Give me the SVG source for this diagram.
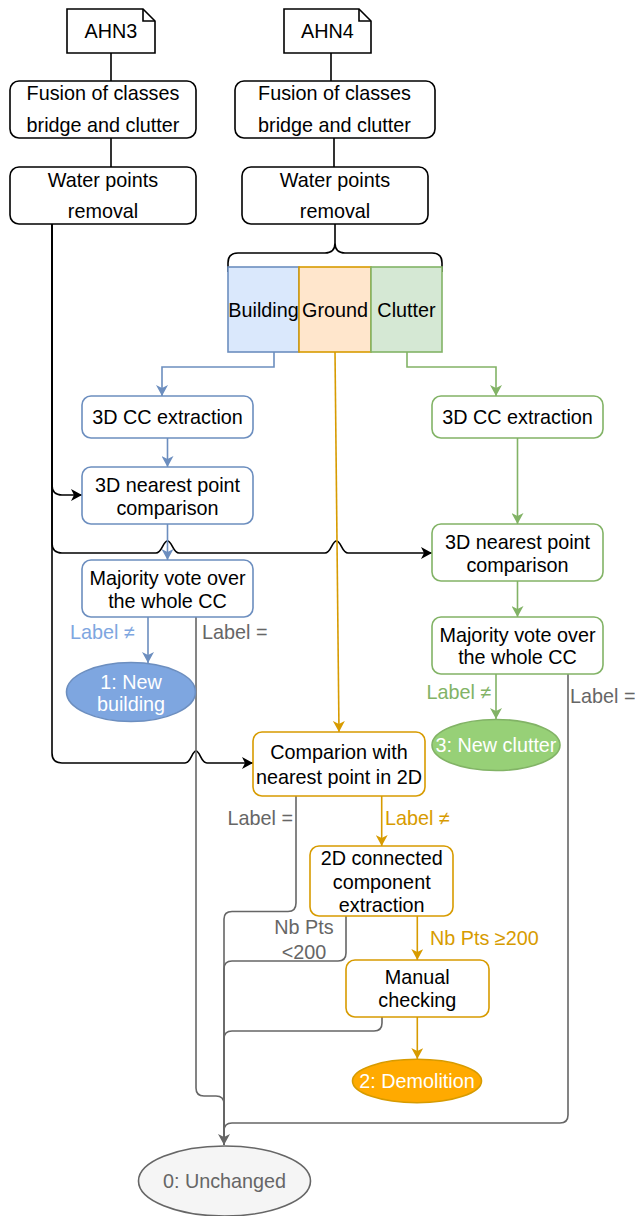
<svg xmlns="http://www.w3.org/2000/svg" width="635" height="1216" viewBox="0 0 635 1216">
<style>
text{font-family:"Liberation Sans",Arial,sans-serif;font-size:19.8px;text-anchor:middle;fill:#000}
.bk{fill:#fff;stroke:#000;stroke-width:1.6}
.bl{fill:#fff;stroke:#6c8ebf;stroke-width:1.6}
.gr{fill:#fff;stroke:#82b366;stroke-width:1.6}
.or{fill:#fff;stroke:#d79b00;stroke-width:1.6}
.c{fill:none;stroke-width:1.6}
.cbk{stroke:#000}.cbl{stroke:#6c8ebf}.cgr{stroke:#82b366}.cor{stroke:#d79b00}.cgy{stroke:#666}
.tbl{fill:#7ea6e0}.tgr{fill:#82b366}.tor{fill:#d79b00}.tgy{fill:#666}.tw{fill:#fff}
.st{text-anchor:start}.en{text-anchor:end}
</style>
<defs>
<marker id="abk" markerUnits="userSpaceOnUse" markerWidth="12" markerHeight="12" refX="11" refY="6" orient="auto"><path d="M0,0 L11,6 L0,12 L3,6 Z" fill="#000"/></marker>
<marker id="abl" markerUnits="userSpaceOnUse" markerWidth="12" markerHeight="12" refX="11" refY="6" orient="auto"><path d="M0,0 L11,6 L0,12 L3,6 Z" fill="#6c8ebf"/></marker>
<marker id="agr" markerUnits="userSpaceOnUse" markerWidth="12" markerHeight="12" refX="11" refY="6" orient="auto"><path d="M0,0 L11,6 L0,12 L3,6 Z" fill="#82b366"/></marker>
<marker id="aor" markerUnits="userSpaceOnUse" markerWidth="12" markerHeight="12" refX="11" refY="6" orient="auto"><path d="M0,0 L11,6 L0,12 L3,6 Z" fill="#d79b00"/></marker>
<marker id="agy" markerUnits="userSpaceOnUse" markerWidth="12" markerHeight="12" refX="11" refY="6" orient="auto"><path d="M0,0 L11,6 L0,12 L3,6 Z" fill="#666"/></marker>
</defs>
<g id="connectors">
<path class="c cbk" d="M111 53 V81 M111 138 V167 M331 53 V81 M334 138 V167"/>
<path class="c cbk" d="M228 272 V263 Q228 253 238 253 H325 Q335 253 335 243 V224 M442 272 V263 Q442 253 432 253 H345 Q335 253 335 243"/>
<path class="c cbk" marker-end="url(#abk)" d="M52 224 V485 Q52 495 62 495 H82"/>
<path class="c cbk" marker-end="url(#abk)" d="M52 224 V543 Q52 553 62 553 H156 C162 553 163 541 167.5 541 C172 541 173 553 179 553 H325 C331 553 332 541 336.5 541 C341 541 342 553 348 553 H432"/>
<path class="c cbk" marker-end="url(#abk)" d="M52 224 V753 Q52 763 62 763 H185 C191 763 192 751 196 751 C200 751 201 763 207 763 H253"/>
<path class="c cbl" marker-end="url(#abl)" d="M274 352 V367 H162 V396"/>
<path class="c cbl" marker-end="url(#abl)" d="M167.5 438 V467"/>
<path class="c cbl" marker-end="url(#abl)" d="M167.5 524 V560"/>
<path class="c cbl" marker-end="url(#abl)" d="M148 617 V663"/>
<path class="c cgr" marker-end="url(#agr)" d="M407 352 V367 H496 V396"/>
<path class="c cgr" marker-end="url(#agr)" d="M517.5 438 V524"/>
<path class="c cgr" marker-end="url(#agr)" d="M517.5 581 V617"/>
<path class="c cgr" marker-end="url(#agr)" d="M496 674 V719"/>
<path class="c cor" marker-end="url(#aor)" d="M335 352 L339 732"/>
<path class="c cor" marker-end="url(#aor)" d="M381.7 796 V846"/>
<path class="c cor" marker-end="url(#aor)" d="M417.3 916 V960"/>
<path class="c cor" marker-end="url(#aor)" d="M417.3 1017 V1059"/>
<path class="c cgy" d="M196 617 V1088 Q196 1096 204 1096 H216 Q224 1096 224 1104 V1145"/>
<path class="c cgy" d="M296 796 V903 Q296 911.5 288 911.5 H232 Q224 911.5 224 919 V1145"/>
<path class="c cgy" d="M346 916 V953 Q346 961 338 961 H232 Q224 961 224 969 V1145"/>
<path class="c cgy" d="M382 1017 V1023 Q382 1031 374 1031 H232 Q224 1031 224 1039 V1145"/>
<path class="c cgy" marker-end="url(#agy)" d="M568 674 V1115 Q568 1123 560 1123 H232 Q224 1123 224 1131 V1145"/>
<text class="tbl" x="102.5" y="639">Label ≠</text>
<text class="tgy st" x="202" y="639">Label =</text>
<text class="tgr" x="459" y="699">Label ≠</text>
<text class="tgy st" x="570" y="703">Label =</text>
<text class="tgy en" x="293" y="825">Label =</text>
<text class="tor st" x="385" y="825">Label ≠</text>
<text class="tgy" x="304" y="934">Nb Pts</text>
<text class="tgy" x="304" y="959">&lt;200</text>
<text class="tor st" x="430" y="945">Nb Pts ≥200</text>
</g>
<g id="ahn3"><path class="bk" d="M67 9 H143 L155 21 V53 H67 Z"/><path class="c cbk" d="M143 9 V21 H155"/><text x="111" y="38">AHN3</text></g>
<g id="ahn4"><path class="bk" d="M284 9 H359 L371 21 V53 H284 Z"/><path class="c cbk" d="M359 9 V21 H371"/><text x="327.5" y="38">AHN4</text></g>
<g id="fusion3"><rect class="bk" x="10" y="81" width="186" height="57" rx="9"/><text x="103" y="100">Fusion of classes</text><text x="103" y="132">bridge and clutter</text></g>
<g id="fusion4"><rect class="bk" x="235" y="81" width="200" height="57" rx="9"/><text x="334.5" y="100">Fusion of classes</text><text x="334.5" y="132">bridge and clutter</text></g>
<g id="water3"><rect class="bk" x="10" y="167" width="186" height="57" rx="9"/><text x="103" y="187">Water points</text><text x="103" y="218">removal</text></g>
<g id="water4"><rect class="bk" x="242" y="167" width="186" height="57" rx="9"/><text x="335" y="187">Water points</text><text x="335" y="218">removal</text></g>
<g id="building"><rect x="228" y="267" width="71" height="85" fill="#dae8fc" stroke="#6c8ebf" stroke-width="1.6"/><text x="263.5" y="317">Building</text></g>
<g id="ground"><rect x="299" y="267" width="72" height="85" fill="#ffe6cc" stroke="#d79b00" stroke-width="1.6"/><text x="335" y="317">Ground</text></g>
<g id="clutter"><rect x="371" y="267" width="71" height="85" fill="#d5e8d4" stroke="#82b366" stroke-width="1.6"/><text x="406.5" y="317">Clutter</text></g>
<g id="cc-blue"><rect class="bl" x="82" y="396" width="171" height="42" rx="9"/><text x="167.5" y="424">3D CC extraction</text></g>
<g id="np-blue"><rect class="bl" x="82" y="467" width="171" height="57" rx="9"/><text x="167.5" y="492">3D nearest point</text><text x="167.5" y="515">comparison</text></g>
<g id="mv-blue"><rect class="bl" x="82" y="560" width="171" height="57" rx="9"/><text x="167.5" y="585">Majority vote over</text><text x="167.5" y="608">the whole CC</text></g>
<g id="new-building"><ellipse cx="131" cy="692" rx="64.5" ry="29.5" fill="#7ea6e0" stroke="#6c8ebf" stroke-width="1.6"/><text class="tw" x="131" y="689">1: New</text><text class="tw" x="131" y="711">building</text></g>
<g id="cc-green"><rect class="gr" x="432" y="396" width="171" height="42" rx="9"/><text x="517.5" y="424">3D CC extraction</text></g>
<g id="np-green"><rect class="gr" x="432" y="524" width="171" height="57" rx="9"/><text x="517.5" y="549">3D nearest point</text><text x="517.5" y="572">comparison</text></g>
<g id="mv-green"><rect class="gr" x="432" y="617" width="171" height="57" rx="9"/><text x="517.5" y="642">Majority vote over</text><text x="517.5" y="664">the whole CC</text></g>
<g id="new-clutter"><ellipse cx="496" cy="745" rx="64" ry="25.5" fill="#97d077" stroke="#82b366" stroke-width="1.6"/><text class="tw" x="496" y="752">3: New clutter</text></g>
<g id="comparison2d"><rect class="or" x="253" y="732" width="172" height="64" rx="9"/><text x="339" y="759">Comparion with</text><text x="339" y="784">nearest point in 2D</text></g>
<g id="cc2d"><rect class="or" x="310" y="846" width="143" height="70" rx="9"/><text x="381.7" y="865">2D connected</text><text x="381.7" y="889">component</text><text x="381.7" y="912">extraction</text></g>
<g id="manual"><rect class="or" x="346" y="960" width="143" height="57" rx="9"/><text x="417.3" y="984">Manual</text><text x="417.3" y="1007">checking</text></g>
<g id="demolition"><ellipse cx="417" cy="1081" rx="64.5" ry="21.7" fill="#ffaa00" stroke="#d79b00" stroke-width="1.6"/><text class="tw" x="417" y="1088">2: Demolition</text></g>
<g id="unchanged"><ellipse cx="224.5" cy="1181" rx="86" ry="35" fill="#f5f5f5" stroke="#666" stroke-width="1.6"/><text class="tgy" x="224.5" y="1188">0: Unchanged</text></g>
</svg>
